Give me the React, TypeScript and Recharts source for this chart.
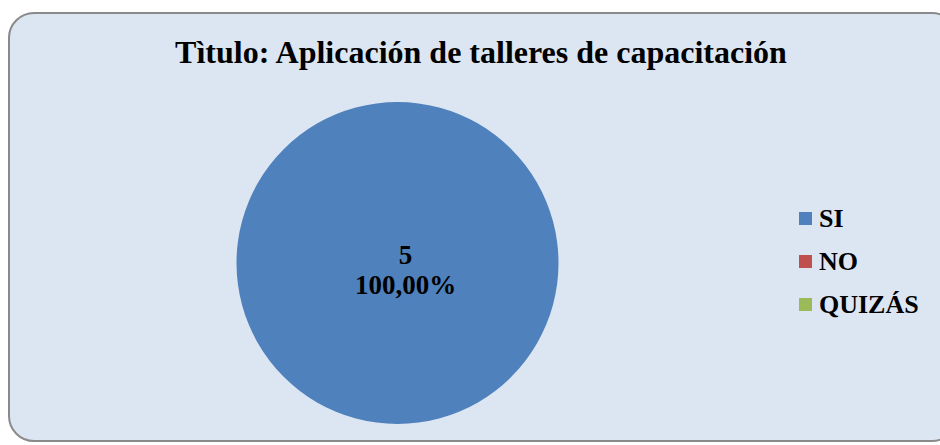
import { PieChart, Pie, Cell, Legend } from 'recharts';

// Chart data
const categories = ['SI', 'NO', 'QUIZÁS'];
const counts = [5, 0, 0];
const percents = ['100,00%', '0,00%', '0,00%'];
const colors = ['#4F81BD', '#C0504D', '#9BBB59'];

const data = categories.map((name, i) => ({ name, value: counts[i], pct: percents[i] }));

const FONT = '"Liberation Serif", "Times New Roman", serif';

// label in the middle of the (only) visible slice, nudged right like the original
const renderLabel = (props: any) => {
  const { cx, cy, index, value } = props;
  if (index !== 0) return null;
  const x = cx + 8;
  return (
    <text x={x} y={cy} textAnchor="middle" fontFamily={FONT} fontWeight="bold" fontSize={27} fill="#000">
      <tspan x={x} dy={1}>{value}</tspan>
      <tspan x={x} dy={30}>{data[index].pct}</tspan>
    </text>
  );
};

const renderLegend = () => (
  <div style={{ fontFamily: FONT, fontWeight: 'bold', fontSize: 26, color: '#000' }}>
    {data.map((d, i) => (
      <div key={d.name} style={{ display: 'flex', alignItems: 'center', height: 43 }}>
        <span style={{ display: 'inline-block', width: 13, height: 13, background: colors[i], marginRight: 7 }} />
        <span>{d.name}</span>
      </div>
    ))}
  </div>
);

export default function App() {
  return (
    <div style={{ position: 'absolute', left: 0, top: 0, width: 940, height: 445, overflow: 'hidden', background: '#fff' }}>
      {/* rounded chart frame */}
      <div
        style={{
          position: 'absolute',
          left: 8,
          top: 12,
          width: 950,
          height: 430,
          borderRadius: 26,
          border: '2px solid #8a8a8a',
          background: '#DCE6F2',
          boxSizing: 'border-box',
        }}
      />
      <div
        style={{
          position: 'absolute',
          left: 0,
          top: 34,
          width: 962,
          textAlign: 'center',
          fontFamily: FONT,
          fontWeight: 'bold',
          fontSize: 32,
          color: '#000',
          whiteSpace: 'nowrap',
        }}
      >
        Tìtulo: Aplicación de talleres de capacitación
      </div>
      <div style={{ position: 'absolute', left: 0, top: 0 }}>
        <PieChart width={940} height={445} margin={{ top: 0, right: 0, bottom: 0, left: 0 }}>
          <Pie
            data={data}
            dataKey="value"
            nameKey="name"
            cx={397.5}
            cy={263}
            outerRadius={161}
            startAngle={90}
            endAngle={-270}
            stroke="none"
            label={renderLabel}
            labelLine={false}
            isAnimationActive={false}
          >
            {data.map((d, i) => (
              <Cell key={d.name} fill={colors[i]} />
            ))}
          </Pie>
          <Legend
            layout="vertical"
            content={renderLegend}
            wrapperStyle={{ left: 799, top: 197, width: 140 }}
          />
        </PieChart>
      </div>
    </div>
  );
}
